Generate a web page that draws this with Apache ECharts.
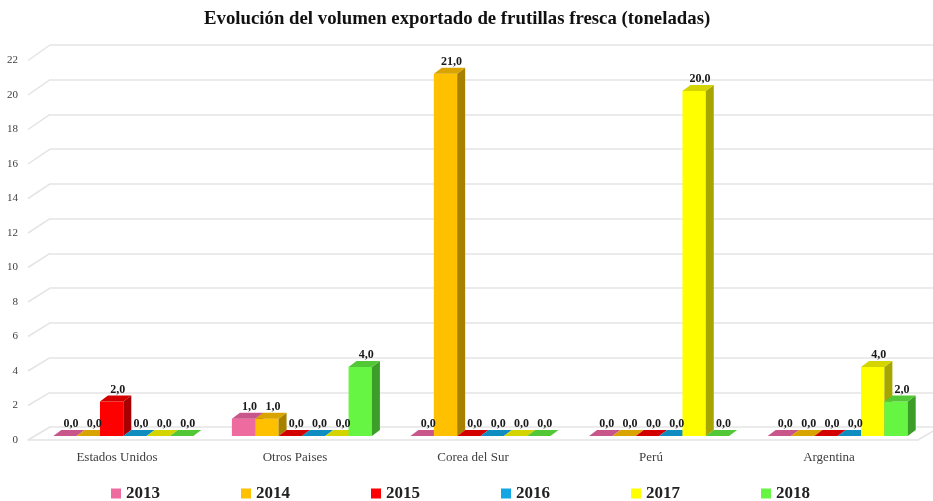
<!DOCTYPE html>
<html>
<head>
<meta charset="utf-8">
<script src="https://cdn.jsdelivr.net/npm/echarts@6/dist/echarts.min.js"></script>
<style>
  html, body { margin: 0; padding: 0; background: #ffffff; }
  #chart { width: 933px; height: 501px; }
</style>
</head>
<body>
<div id="chart"></div>
<script>
// Export volume of fresh strawberries by destination (tonnes)
const categories = ['Estados Unidos', 'Otros Paises', 'Corea del Sur', 'Perú', 'Argentina'];
const years = ['2013', '2014', '2015', '2016', '2017', '2018'];
const v2013 = [0, 1, 0, 0, 0];
const v2014 = [0, 1, 21, 0, 0];
const v2015 = [2, 0, 0, 0, 0];
const v2016 = [0, 0, 0, 0, 0];
const v2017 = [0, 0, 0, 20, 4];
const v2018 = [0, 4, 0, 0, 2];
const seriesValues = [v2013, v2014, v2015, v2016, v2017, v2018];
const yMin = 0, yMax = 22, yStep = 2;

// face colours per year: front, side, top
const palette = [
  { front: '#EE6BA0', side: '#A8446E', top: '#C9568A' },
  { front: '#FFC000', side: '#A88000', top: '#D9A300' },
  { front: '#FF0000', side: '#A80000', top: '#D40000' },
  { front: '#12A6E2', side: '#0C6E98', top: '#0F8CC0' },
  { front: '#FFFF00', side: '#A6A600', top: '#D4D400' },
  { front: '#66F542', side: '#3C9E28', top: '#52C836' }
];

const FRONT = { left: 28, right: 15, top: 60.5, bottom: 61 };
const BARS  = { left: 34, right: 6, top: 56.5, bottom: 65 };
const BACK  = { left: 50, right: 0, top: 45, bottom: 74 };
const DEPTH_X = 8, DEPTH_Y = -6;
const GROUP_FILL = 0.784;
const GRID_COLOR = '#e4e4e4';
const serif = '"Liberation Serif", "DejaVu Serif", serif';

function fmt(v) { return v.toFixed(1).replace('.', ','); }

function makeRender(si) {
  return function (params, api) {
    const cat = api.value(0);
    const val = api.value(1);
    const base = api.coord([cat, 0]);
    const topPt = api.coord([cat, val]);
    const band = api.size([1, 0])[0];
    const bw = band * GROUP_FILL / years.length;
    const x0 = base[0] - bw * years.length / 2 + si * bw;
    const x1 = x0 + bw;
    const yb = base[1];
    const yt = topPt[1];
    const c = palette[si];
    const children = [];
    if (yb - yt > 0.5) {
      children.push({ type: 'rect', shape: { x: x0, y: yt, width: bw, height: yb - yt },
        style: { fill: c.front } });
      children.push({ type: 'polygon', shape: { points: [[x1, yb], [x1 + DEPTH_X, yb + DEPTH_Y], [x1 + DEPTH_X, yt + DEPTH_Y], [x1, yt]] },
        style: { fill: c.side } });
    }
    children.push({ type: 'polygon', shape: { points: [[x0, yt], [x1, yt], [x1 + DEPTH_X, yt + DEPTH_Y], [x0 + DEPTH_X, yt + DEPTH_Y]] },
      style: { fill: c.top } });
    children.push({ type: 'text', z2: 10,
      style: { text: fmt(val), x: x0 + bw / 2 + DEPTH_X / 2 + 2, y: yt - 6,
        align: 'center', verticalAlign: 'bottom',
        font: 'bold 12px ' + serif, fill: '#1a1a1a' } });
    return { type: 'group', children: children };
  };
}

const barSeries = years.map(function (y, si) {
  return {
    name: y,
    type: 'custom',
    xAxisIndex: 1,
    yAxisIndex: 1,
    z: 5,
    itemStyle: { color: palette[si].front },
    renderItem: makeRender(si),
    encode: { x: 0, y: 1 },
    data: seriesValues[si].map(function (v, ci) { return [ci, v]; })
  };
});

const chart = echarts.init(document.getElementById('chart'), null, { renderer: 'canvas' });

chart.setOption({
  animation: false,
  backgroundColor: '#ffffff',
  title: {
    text: 'Evolución del volumen exportado de frutillas fresca (toneladas)',
    left: 199, top: 5,
    textStyle: { fontFamily: serif, fontWeight: 'bold', fontSize: 18.8, color: '#111111' }
  },
  legend: {
    data: years,
    left: 106, top: 480,
    icon: 'rect', itemWidth: 10, itemHeight: 10, itemGap: 81,
    textStyle: { fontFamily: serif, fontWeight: 'bold', fontSize: 17, color: '#222222' }
  },
  grid: [
    Object.assign({ containLabel: false }, FRONT),
    Object.assign({ containLabel: false }, BARS),
    Object.assign({ containLabel: false }, BACK)
  ],
  xAxis: [
    { type: 'category', gridIndex: 0, data: categories,
      axisLine: { show: true, lineStyle: { color: GRID_COLOR, width: 1.5 } },
      axisTick: { show: false },
      axisLabel: { margin: 11, fontFamily: serif, fontSize: 13, color: '#404040' },
      splitLine: { show: false } },
    { type: 'category', gridIndex: 1, data: categories, show: false },
    { type: 'category', gridIndex: 2, data: categories, show: false }
  ],
  yAxis: [
    { type: 'value', gridIndex: 0, min: yMin, max: yMax, interval: yStep,
      axisLine: { show: false }, axisTick: { show: false },
      axisLabel: { margin: 10, fontFamily: serif, fontSize: 11, color: '#404040' },
      splitLine: { show: false } },
    { type: 'value', gridIndex: 1, min: yMin, max: yMax, interval: yStep, show: false },
    { type: 'value', gridIndex: 2, min: yMin, max: yMax, interval: yStep,
      axisLine: { show: false }, axisTick: { show: false }, axisLabel: { show: false },
      splitLine: { show: true, lineStyle: { color: GRID_COLOR, width: 1.5 } } }
  ],
  series: barSeries
});

// side-wall and floor edges joining the front plane to the back wall
const edges = [];
for (let v = yMin; v <= yMax; v += yStep) {
  const yf = chart.convertToPixel({ yAxisIndex: 0 }, v);
  const yk = chart.convertToPixel({ yAxisIndex: 2 }, v);
  edges.push({ type: 'line', silent: true, z: 1,
    shape: { x1: FRONT.left, y1: yf, x2: BACK.left, y2: yk },
    style: { stroke: GRID_COLOR, lineWidth: 1.5 } });
}
const yf0 = chart.convertToPixel({ yAxisIndex: 0 }, 0);
const yk0 = chart.convertToPixel({ yAxisIndex: 2 }, 0);
const rightFront = 933 - FRONT.right;
edges.push({ type: 'line', silent: true, z: 1,
  shape: { x1: rightFront, y1: yf0, x2: rightFront + (BACK.left - FRONT.left), y2: yk0 },
  style: { stroke: GRID_COLOR, lineWidth: 1.5 } });
chart.setOption({ graphic: edges });
</script>
</body>
</html>
